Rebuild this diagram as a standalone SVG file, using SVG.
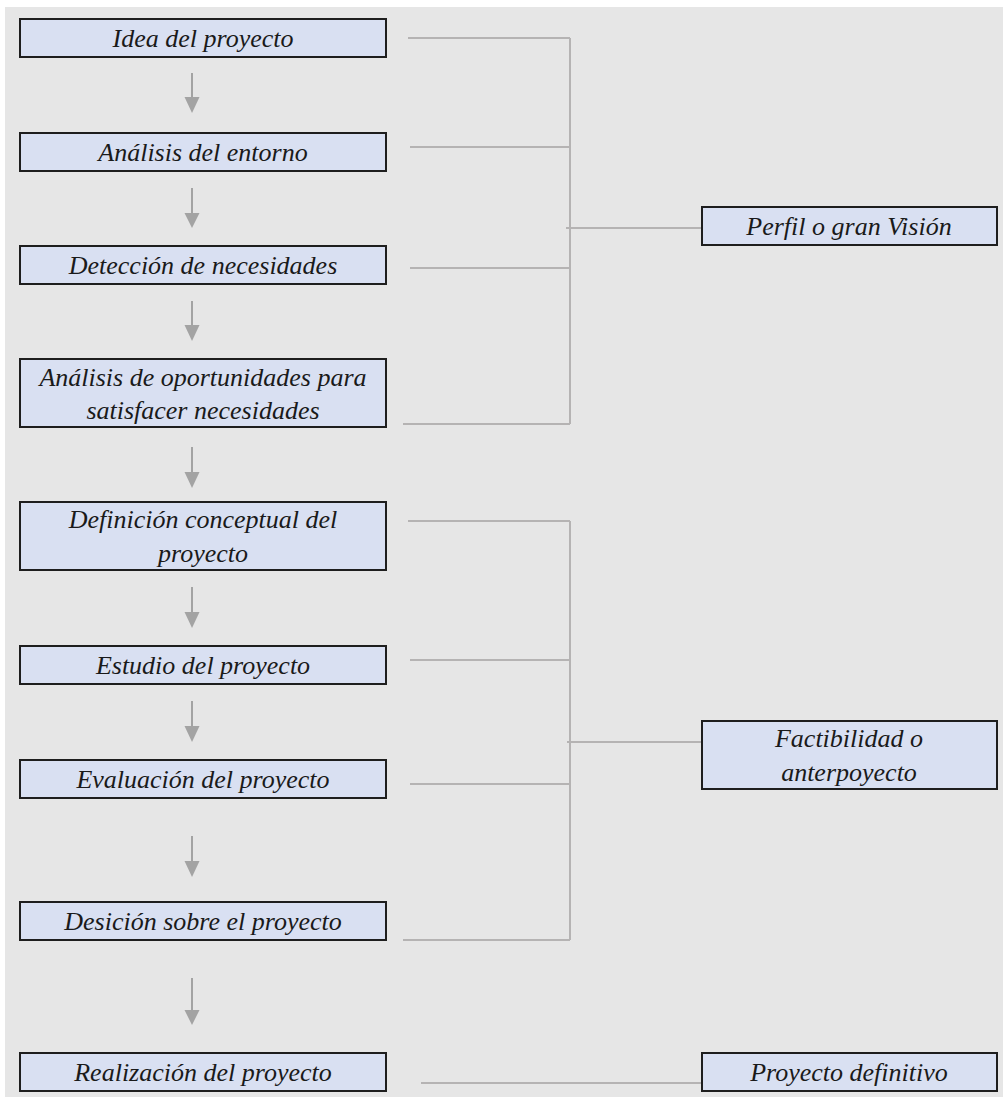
<svg xmlns="http://www.w3.org/2000/svg" width="1003" height="1097" viewBox="0 0 1003 1097">
  <defs>
    <style>
      .box { fill: #d9e0f2; stroke: #1e1e1e; stroke-width: 2; }
      .lbl { font-family: "Liberation Serif", "Times New Roman", serif; font-style: italic; font-size: 26px; fill: #1a1a1a; text-anchor: middle; }
      .link { stroke: #b5b3b3; stroke-width: 2; fill: none; }
      .flow { stroke: #a3a3a3; stroke-width: 2; fill: none; }
      .head { fill: #a3a3a3; }
    </style>
  </defs>

  <!-- page background -->
  <rect x="0" y="0" width="1003" height="1097" fill="#ffffff"/>
  <rect x="5" y="7" width="998" height="1090" fill="#e6e6e6"/>

  <!-- connectors -->
  <g id="connectors">
    <!-- stage 1 bracket -->
    <line class="link" x1="408" y1="38" x2="570" y2="38"/>
    <line class="link" x1="410" y1="147" x2="570" y2="147"/>
    <line class="link" x1="410" y1="268" x2="570" y2="268"/>
    <line class="link" x1="403" y1="424" x2="570" y2="424"/>
    <line class="link" x1="570" y1="38" x2="570" y2="424"/>
    <line class="link" x1="566" y1="228" x2="702" y2="228"/>
    <!-- stage 2 bracket -->
    <line class="link" x1="408" y1="521" x2="570" y2="521"/>
    <line class="link" x1="410" y1="660" x2="570" y2="660"/>
    <line class="link" x1="410" y1="784" x2="570" y2="784"/>
    <line class="link" x1="403" y1="940" x2="570" y2="940"/>
    <line class="link" x1="570" y1="521" x2="570" y2="940"/>
    <line class="link" x1="567" y1="742" x2="702" y2="742"/>
    <!-- final stage -->
    <line class="link" x1="421" y1="1083" x2="702" y2="1083"/>

    <!-- flow arrows -->
    <g id="arrows">
      <line class="flow" x1="192" y1="73" x2="192" y2="98"/>
      <polygon class="head" points="184.5,97 199.5,97 192,113"/>
      <line class="flow" x1="192" y1="188" x2="192" y2="214"/>
      <polygon class="head" points="184.5,213 199.5,213 192,228"/>
      <line class="flow" x1="192" y1="301" x2="192" y2="326"/>
      <polygon class="head" points="184.5,325 199.5,325 192,341"/>
      <line class="flow" x1="192" y1="447" x2="192" y2="473"/>
      <polygon class="head" points="184.5,472 199.5,472 192,488"/>
      <line class="flow" x1="192" y1="587" x2="192" y2="613"/>
      <polygon class="head" points="184.5,612 199.5,612 192,628"/>
      <line class="flow" x1="192" y1="701" x2="192" y2="727"/>
      <polygon class="head" points="184.5,726 199.5,726 192,742"/>
      <line class="flow" x1="192" y1="836" x2="192" y2="862"/>
      <polygon class="head" points="184.5,861 199.5,861 192,877"/>
      <line class="flow" x1="192" y1="978" x2="192" y2="1011"/>
      <polygon class="head" points="184.5,1010 199.5,1010 192,1025"/>
    </g>
  </g>

  <!-- process steps -->
  <g id="idea">
    <rect class="box" x="20" y="19" width="366" height="38"/>
    <text class="lbl" x="203" y="47">Idea del proyecto</text>
  </g>
  <g id="analisis-entorno">
    <rect class="box" x="20" y="133" width="366" height="38"/>
    <text class="lbl" x="203" y="161">Análisis del entorno</text>
  </g>
  <g id="deteccion">
    <rect class="box" x="20" y="246" width="366" height="38"/>
    <text class="lbl" x="203" y="274">Detección de necesidades</text>
  </g>
  <g id="analisis-oportunidades">
    <rect class="box" x="20" y="359" width="366" height="68"/>
    <text class="lbl" x="203" y="386">Análisis de oportunidades para</text>
    <text class="lbl" x="203" y="419">satisfacer necesidades</text>
  </g>
  <g id="definicion">
    <rect class="box" x="20" y="502" width="366" height="68"/>
    <text class="lbl" x="203" y="528">Definición conceptual del</text>
    <text class="lbl" x="203" y="562">proyecto</text>
  </g>
  <g id="estudio">
    <rect class="box" x="20" y="646" width="366" height="38"/>
    <text class="lbl" x="203" y="674">Estudio del proyecto</text>
  </g>
  <g id="evaluacion">
    <rect class="box" x="20" y="760" width="366" height="38"/>
    <text class="lbl" x="203" y="788">Evaluación del proyecto</text>
  </g>
  <g id="decision">
    <rect class="box" x="20" y="902" width="366" height="38"/>
    <text class="lbl" x="203" y="930">Desición sobre el proyecto</text>
  </g>
  <g id="realizacion">
    <rect class="box" x="20" y="1053" width="366" height="38"/>
    <text class="lbl" x="203" y="1081">Realización del proyecto</text>
  </g>

  <!-- phases -->
  <g id="perfil">
    <rect class="box" x="702" y="207" width="295" height="38"/>
    <text class="lbl" x="849" y="235">Perfil o gran Visión</text>
  </g>
  <g id="factibilidad">
    <rect class="box" x="702" y="721" width="295" height="68"/>
    <text class="lbl" x="849" y="747">Factibilidad o</text>
    <text class="lbl" x="849" y="781">anterpoyecto</text>
  </g>
  <g id="definitivo">
    <rect class="box" x="702" y="1053" width="295" height="38"/>
    <text class="lbl" x="849" y="1081">Proyecto definitivo</text>
  </g>
</svg>
